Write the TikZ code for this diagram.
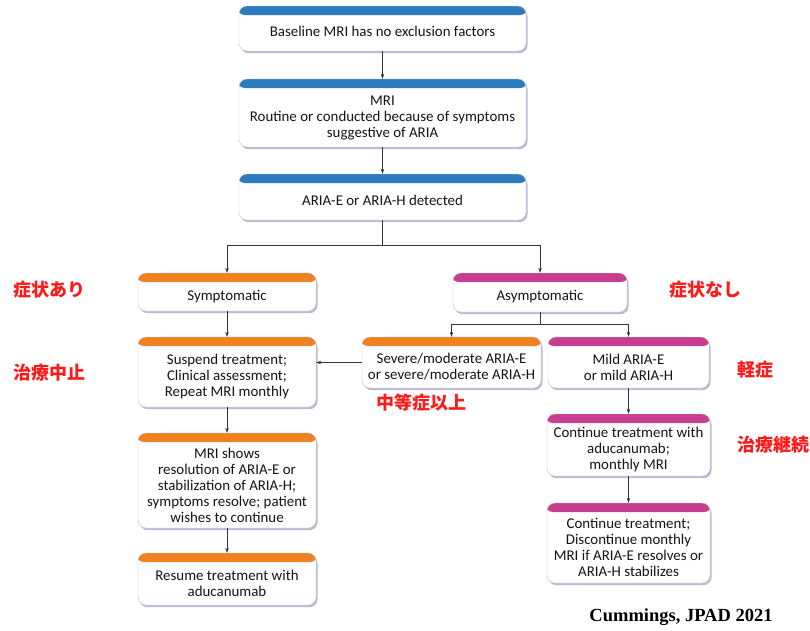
\documentclass[tikz,border=0pt]{standalone}
\usepackage{fontspec}
\setmainfont{Carlito}
\newfontfamily\cjk{Noto Sans CJK JP}
\newfontfamily\citefont{Liberation Serif}
\usetikzlibrary{shadows,calc,arrows.meta}
\definecolor{barblue}{HTML}{2B7BBE}
\definecolor{barorange}{HTML}{F08122}
\definecolor{barmag}{HTML}{C63F8E}
\definecolor{jred}{HTML}{FF1A1A}
\definecolor{linec}{HTML}{333333}
\begin{document}
\begin{tikzpicture}[x=1pt,y=-1pt,
  box/.style={rounded corners=8pt, fill=white, draw=black!22, line width=0.4pt, inner sep=0pt,
    drop shadow={shadow xshift=1.5pt, shadow yshift=-2.2pt, fill=blue!35!black!45, opacity=0.6},
    path picture={\fill[#1] ([yshift=2pt,xshift=-2pt]path picture bounding box.north west) rectangle ([yshift=-9pt,xshift=2pt]path picture bounding box.north east);}},
  txt/.style={align=center, inner sep=1pt, font=\fontsize{14.9}{16}\selectfont, text=black!92},
  conn/.style={draw=linec, line width=0.6pt, -{Stealth[length=5pt,width=3.5pt]}},
  plain/.style={draw=linec, line width=0.6pt},
  jp/.style={font=\cjk\bfseries\fontsize{18}{20}\selectfont, text=jred, inner sep=0pt},
]
\useasboundingbox[fill=white] (0,0) rectangle (810,630);

% boxes
\node[box=barblue, minimum width=287pt, minimum height=45pt] (b1) at (382.5,28.5) {};
\node[box=barblue, minimum width=287pt, minimum height=68pt] (b2) at (382.5,113) {};
\node[box=barblue, minimum width=287pt, minimum height=46pt] (b3) at (382.5,197) {};
\node[box=barorange, minimum width=178pt, minimum height=38pt] (sym) at (227,292) {};
\node[box=barmag, minimum width=174pt, minimum height=39pt] (asym) at (540,292.5) {};
\node[box=barorange, minimum width=178pt, minimum height=70pt] (susp) at (227,372) {};
\node[box=barorange, minimum width=179pt, minimum height=51pt] (sev) at (451.5,362.5) {};
\node[box=barmag, minimum width=161pt, minimum height=51pt] (mild) at (628.5,362.5) {};
\node[box=barorange, minimum width=178pt, minimum height=95pt] (mri) at (227,480.5) {};
\node[box=barorange, minimum width=178pt, minimum height=52pt] (res) at (227,579) {};
\node[box=barmag, minimum width=163pt, minimum height=62pt] (cont1) at (628.5,445) {};
\node[box=barmag, minimum width=163pt, minimum height=80pt] (cont2) at (628.5,543) {};

% texts
\node[txt] (t1) at ($(b1.center)+(0,2.5)$) {Baseline MRI has no exclusion factors};
\node[txt] (t2) at ($(b2.center)+(0,4.5)$) {MRI\\Routine or conducted because of symptoms\\suggestive of ARIA};
\node[txt] (t3) at ($(b3.center)+(0,3.5)$) {ARIA-E or ARIA-H detected};
\node[txt] (tsym) at ($(sym.center)+(0,4.5)$) {Symptomatic};
\node[txt] (tasym) at ($(asym.center)+(0,4.5)$) {Asymptomatic};
\node[txt] (tsusp) at ($(susp.center)+(0,4.5)$) {Suspend treatment;\\Clinical assessment;\\Repeat MRI monthly};
\node[txt] (tsev) at ($(sev.center)+(0,4.5)$) {Severe/moderate ARIA-E\\or severe/moderate ARIA-H};
\node[txt] (tmild) at ($(mild.center)+(0,4.5)$) {Mild ARIA-E\\or mild ARIA-H};
\node[txt] (tmri) at ($(mri.center)+(0,4.5)$) {MRI shows\\resolution of ARIA-E or\\stabilization of ARIA-H;\\symptoms resolve; patient\\wishes to continue};
\node[txt] (tres) at ($(res.center)+(0,4.5)$) {Resume treatment with\\aducanumab};
\node[txt] (tc1) at ($(cont1.center)+(0,4.5)$) {Continue treatment with\\aducanumab;\\monthly MRI};
\node[txt] (tc2) at ($(cont2.center)+(0,4.5)$) {Continue treatment;\\Discontinue monthly\\MRI if ARIA-E resolves or\\ARIA-H stabilizes};

% connectors
\draw[conn] (b1) -- (b2);
\draw[conn] (b2) -- (b3);
\coordinate (split1) at ($(b3.south)+(0,25)$);
\draw[plain] (b3.south) -- (split1);
\draw[conn] (split1) -| (sym.north);
\draw[conn] (split1) -| (asym.north);
\coordinate (split2) at ($(asym.south)+(0,12.5)$);
\draw[plain] (asym.south) -- (split2);
\draw[conn] (split2) -| (sev.north);
\draw[conn] (split2) -| (mild.north);
\draw[conn] (sev.west) -- (sev.west -| susp.east);
\draw[conn] (sym) -- (susp);
\draw[conn] (susp) -- (mri);
\draw[conn] (mri) -- (res);
\draw[conn] (mild) -- (cont1);
\draw[conn] (cont1) -- (cont2);

% Japanese labels
\node[jp] (j1) at (49,290) {症状あり};
\node[jp] (j2) at (49,373) {治療中止};
\node[jp] (j3) at (421,403) {中等症以上};
\node[jp] (j4) at (705,290) {症状なし};
\node[jp] (j5) at (755,370) {軽症};
\node[jp, anchor=west] (j6) at (737,445) {治療継続};

\node[font=\citefont\bfseries\fontsize{18.5}{20}\selectfont, inner sep=0pt] (cite) at (681,617) {Cummings, JPAD 2021};
\end{tikzpicture}
\end{document}
